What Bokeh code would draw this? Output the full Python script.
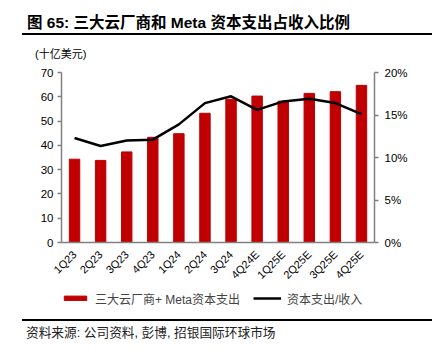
import math
from bokeh.plotting import figure
from bokeh.layouts import column
from bokeh.models import (FactorRange, Range1d, LinearAxis, Legend, LegendItem, Div,
                          ColumnDataSource, FixedTicker, PrintfTickFormatter)
from bokeh.embed import file_html
from bokeh.resources import INLINE

# ---- data ----
quarters = ["1Q23", "2Q23", "3Q23", "4Q23", "1Q24", "2Q24", "3Q24",
            "4Q24E", "1Q25E", "2Q25E", "3Q25E", "4Q25E"]
capex = [34.3, 33.8, 37.3, 43.3, 44.8, 53.2, 59.0, 60.3, 58.2, 61.4, 62.1, 64.7]
ratio_pct = [12.3, 11.35, 12.0, 12.1, 13.9, 16.4, 17.2, 15.6, 16.6, 16.9, 16.4, 15.1]
left_ticks = [0, 10, 20, 30, 40, 50, 60, 70]
right_ticks = [0, 5, 10, 15, 20]

title_text = "图 65: 三大云厂商和 Meta 资本支出占收入比例"
unit_text = "(十亿美元)"
bar_label = "三大云厂商+ Meta资本支出"
line_label = "资本支出/收入"
source_text = "资料来源: 公司资料, 彭博, 招银国际环球市场"

# ---- layout ----
W = 432
HEAD_H, MAIN_H, LEG_H, FOOT_H = 64, 224, 24, 40
BL, BR = 61, 58
FONT = "Liberation Sans, Arial, Noto Sans CJK SC, sans-serif"
RED = "#C00000"
GRAY = "#808080"


def txt(text, left, top, size, lh, bold=False, color="#000"):
    return (f'<div style="position:absolute;left:{left}px;top:{top}px;font-size:{size}px;'
            f'line-height:{lh}px;font-weight:{"bold" if bold else "normal"};color:{color};'
            f'white-space:nowrap;font-family:{FONT};">{text}</div>')


def hrule(top, thick):
    return (f'<div style="position:absolute;left:22px;width:{W - 22}px;top:{top}px;'
            f'height:{thick}px;background:#000;"></div>')


head_html = ('<div style="position:relative;width:%dpx;height:%dpx;">' % (W, HEAD_H)
             + txt(title_text, 27, 13.5, 15.5, 18, bold=True)
             + hrule(33.2, 2.2)
             + txt(unit_text, 35, 47, 11, 14)
             + '</div>')
foot_html = ('<div style="position:relative;width:%dpx;height:%dpx;">' % (W, FOOT_H)
             + hrule(6.9, 2.2)
             + txt(source_text, 26, 13.5, 12.7, 15, color="#222")
             + '</div>')

head = Div(text=head_html, width=W, height=HEAD_H, margin=0)
foot = Div(text=foot_html, width=W, height=FOOT_H, margin=0)

# main chart
src = ColumnDataSource(dict(q=quarters, capex=capex, ratio=ratio_pct))
p = figure(x_range=FactorRange(factors=quarters), y_range=Range1d(0, 70),
           width=W, height=MAIN_H, output_backend="svg", toolbar_location=None,
           min_border_left=BL, min_border_right=BR,
           min_border_top=8, min_border_bottom=46, margin=0)
p.extra_y_ranges = {"pct": Range1d(0, 20)}
p.outline_line_color = None
p.xgrid.visible = False
p.ygrid.visible = False

bar_style = dict(width=0.4, color=RED)
line_style = dict(line_width=2.5, line_color="black")
p.vbar(x="q", top="capex", source=src, **bar_style)
p.line(x="q", y="ratio", source=src, y_range_name="pct", **line_style)

ya = p.yaxis[0]
ya.ticker = FixedTicker(ticks=left_ticks)
ra = LinearAxis(y_range_name="pct", ticker=FixedTicker(ticks=right_ticks),
                formatter=PrintfTickFormatter(format="%d%%"))
p.add_layout(ra, "right")
for ax in (ya, ra):
    ax.axis_line_color = GRAY
    ax.axis_line_width = 1.5
    ax.major_tick_line_color = GRAY
    ax.major_tick_line_width = 1.5
    ax.major_tick_out = 4
    ax.major_tick_in = 0
    ax.minor_tick_line_color = None
    ax.major_label_text_font = FONT
    ax.major_label_text_font_size = "11.5px"
    ax.major_label_text_color = "black"
ya.major_label_standoff = 4
ra.major_label_standoff = 6

xa = p.xaxis[0]
xa.axis_line_color = GRAY
xa.axis_line_width = 1.5
xa.major_tick_line_color = None
xa.major_tick_out = 0
xa.major_label_orientation = math.pi / 4
xa.major_label_text_font = FONT
xa.major_label_text_font_size = "11px"
xa.major_label_text_color = "black"
xa.major_label_standoff = 10

# legend strip: same series, drawn in a range where no mark is visible
lg = figure(width=W, height=LEG_H, x_range=FactorRange(factors=quarters),
            y_range=Range1d(1000, 1001),
            min_border_left=BL, min_border_right=BR, min_border_top=0, min_border_bottom=0,
            x_axis_location=None, y_axis_location=None, margin=0,
            output_backend="svg", toolbar_location=None)
lg.outline_line_color = None
lg.xgrid.visible = False
lg.ygrid.visible = False
lbars = lg.vbar(x="q", top="capex", source=src, **bar_style)
lline = lg.line(x="q", y="ratio", source=src, **line_style)
legend = Legend(items=[LegendItem(label=bar_label, renderers=[lbars]),
                       LegendItem(label=line_label, renderers=[lline])],
                orientation="horizontal", location=(0, 3.6),
                glyph_width=28, glyph_height=6, label_standoff=6, spacing=13,
                label_height=20, padding=0, margin=0,
                border_line_alpha=0, background_fill_alpha=0,
                label_text_font=FONT, label_text_font_size="12px")
lg.add_layout(legend)

layout = column(head, p, lg, foot, spacing=0)
open("out.html", "w").write(file_html(layout, INLINE))
